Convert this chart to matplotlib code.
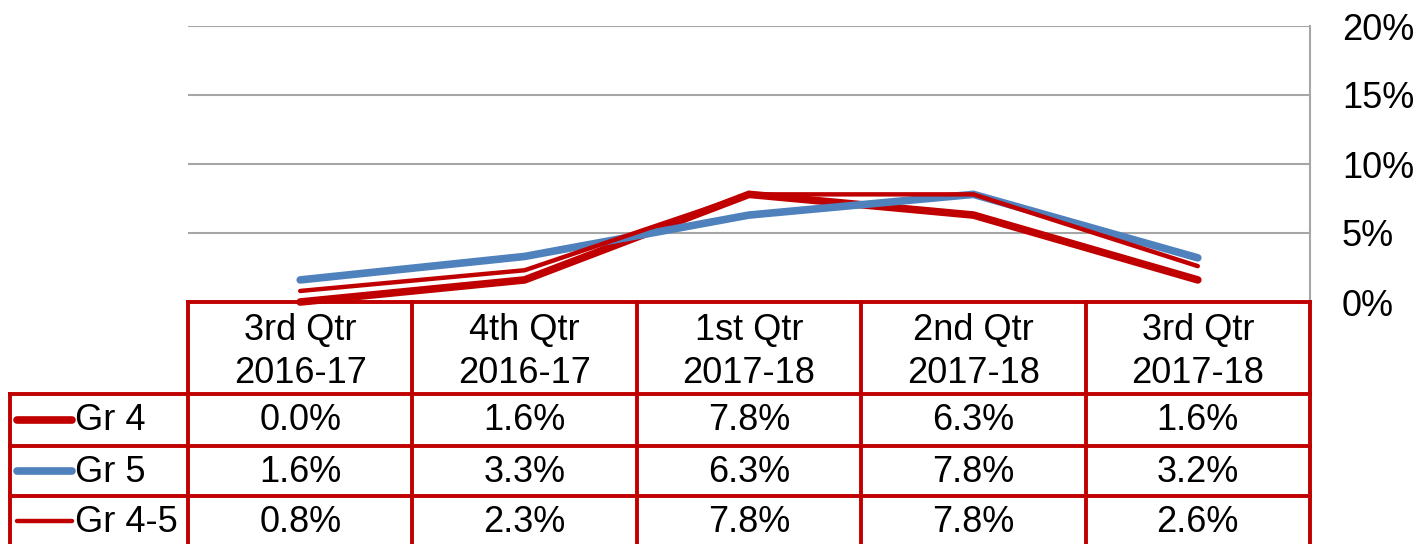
import matplotlib
matplotlib.use("Agg")
import matplotlib.pyplot as plt

plt.rcParams['font.family'] = ['Liberation Sans', 'DejaVu Sans']

categories = ["3rd Qtr\n2016-17", "4th Qtr\n2016-17", "1st Qtr\n2017-18",
              "2nd Qtr\n2017-18", "3rd Qtr\n2017-18"]
series_names = ["Gr 4", "Gr 5", "Gr 4-5"]
gr4 = [0.000, 0.016, 0.078, 0.063, 0.016]
gr5 = [0.016, 0.033, 0.063, 0.078, 0.032]
gr45 = [0.008, 0.023, 0.078, 0.078, 0.026]
yticks = [0.0, 0.05, 0.10, 0.15, 0.20]
ytick_labels = ["0%", "5%", "10%", "15%", "20%"]

RED = "#C00000"
BLUE = "#4F81BD"
GRID = "#A6A6A6"
FS = 26

W, H = 1422, 544
fig = plt.figure(figsize=(W / 100, H / 100), dpi=100)

# plot area in pixels
L, R, T, B = 188, 1310, 26, 302
ax = fig.add_axes([L / W, 1 - B / H, (R - L) / W, (B - T) / H])
ax.set_xlim(-0.5, len(categories) - 0.5)
ax.set_ylim(0, 0.20)
ax.set_yticks(yticks)
ax.set_yticklabels(ytick_labels, fontsize=FS)
ax.yaxis.tick_right()
ax.tick_params(axis='y', length=0, pad=23)
ax.set_xticks([])
for s in ['top', 'left', 'bottom']:
    ax.spines[s].set_visible(False)
ax.spines['right'].set_color(GRID)
ax.spines['right'].set_linewidth(1.5)
ax.grid(axis='y', color=GRID, linewidth=1.5)
ax.set_axisbelow(True)

x = list(range(len(categories)))
styles = [(gr4, RED, 5.5), (gr5, BLUE, 5.5), (gr45, RED, 3.2)]
for vals, col, lw in styles:
    ax.plot(x, vals, color=col, linewidth=lw, solid_capstyle='round',
            solid_joinstyle='miter', clip_on=False, zorder=3)

# table overlay in pixel coordinates
ov = fig.add_axes([0, 0, 1, 1])
ov.set_xlim(0, W)
ov.set_ylim(H, 0)
ov.axis('off')

col_edges = [188, 412.4, 636.8, 861.2, 1085.6, 1310]
row_edges = [302, 394, 446, 496, 560]
lw_t = 2.8
# horizontal lines
ov.plot([col_edges[0], col_edges[-1]], [row_edges[0]] * 2, color=RED, lw=lw_t)
for yy in row_edges[1:4]:
    ov.plot([10, col_edges[-1]], [yy] * 2, color=RED, lw=lw_t)
# vertical lines
for xx in col_edges:
    ov.plot([xx, xx], [row_edges[0], H + 5], color=RED, lw=lw_t)
ov.plot([10, 10], [row_edges[1], H + 5], color=RED, lw=lw_t)

# header text
for i, c in enumerate(categories):
    cx = (col_edges[i] + col_edges[i + 1]) / 2
    ov.text(cx, (row_edges[0] + row_edges[1]) / 2 + 4, c, ha='center',
            va='center', fontsize=FS, linespacing=1.28)

# rows
all_vals = [gr4, gr5, gr45]
for r, (name, vals, st) in enumerate(zip(series_names, all_vals, styles)):
    cy = (row_edges[r + 1] + row_edges[r + 2]) / 2
    if r == 2:
        cy = 521
    ov.plot([17, 72], [cy, cy], color=st[1], lw=st[2], solid_capstyle='round')
    ov.text(75, cy + 1, name, ha='left', va='center', fontsize=FS)
    for i, v in enumerate(vals):
        cx = (col_edges[i] + col_edges[i + 1]) / 2
        ov.text(cx, cy + 1, f"{v * 100:.1f}%", ha='center', va='center',
                fontsize=FS)

fig.savefig("out.png", dpi=100)
